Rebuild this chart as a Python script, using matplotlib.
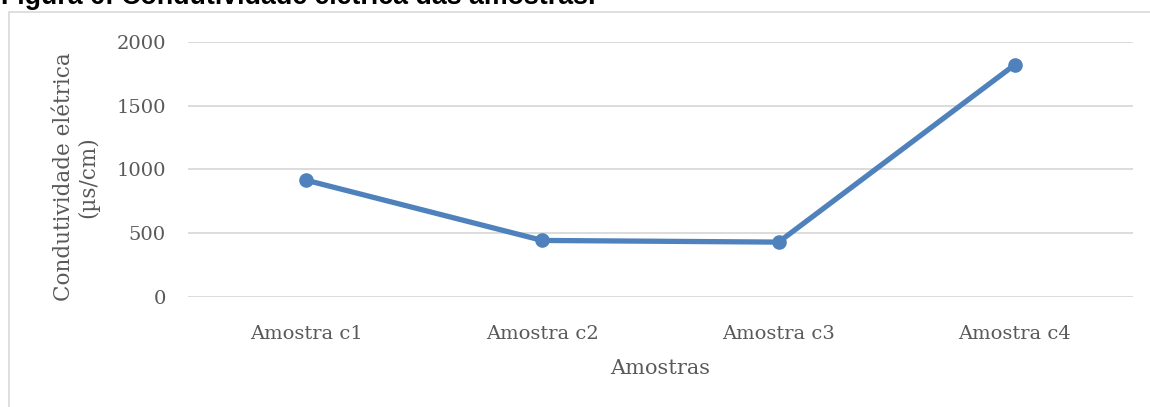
import matplotlib
matplotlib.use("Agg")
import matplotlib.pyplot as plt
import matplotlib.patches as patches

# data
samples = ["Amostra c1", "Amostra c2", "Amostra c3", "Amostra c4"]
conductivity = [915, 443, 430, 1820]
y_ticks = [0, 500, 1000, 1500, 2000]

W, H = 1150, 407
LINE_BLUE = "#4F81BD"
GRID_GREY = "#D9D9D9"
TEXT_GREY = "#595959"
SERIF = "DejaVu Serif"

fig = plt.figure(figsize=(W / 100, H / 100), dpi=100)

# outer chart frame (cut off on the right and bottom)
fig.patches.append(patches.Rectangle((8.5 / W, -0.2), 2.0, (H - 12) / H + 0.2,
                                     transform=fig.transFigure, fill=False,
                                     edgecolor=GRID_GREY, lw=1.2, zorder=0))

# caption above, cropped at the top edge like in the source
fig.text(1 / W, 1 - 4.5 / H, "Figura 6: Condutividade elétrica das amostras.",
         fontsize=19.3, fontweight="bold", family="Liberation Sans",
         color="black", ha="left", va="baseline")

left, right = 188 / W, 1133 / W
bottom, top = (H - 297) / H, (H - 41.7) / H
ax = fig.add_axes([left, bottom, right - left, top - bottom])

x = list(range(len(samples)))
ax.plot(x, conductivity, color=LINE_BLUE, lw=3.8, marker="o", markersize=9.5,
        solid_capstyle="round", zorder=3, clip_on=False)

ax.set_xlim(-0.5, len(samples) - 0.5)
ax.set_ylim(0, 2000)
ax.set_yticks(y_ticks)
ax.set_xticks(x)
ax.set_xticklabels(samples)

for s in ax.spines.values():
    s.set_visible(False)
ax.grid(axis="y", color=GRID_GREY, lw=1.3)
ax.set_axisbelow(True)
ax.tick_params(length=0, labelcolor=TEXT_GREY, labelsize=14)
ax.tick_params(axis="y", pad=16)
ax.tick_params(axis="x", pad=20)
for lab in ax.get_xticklabels() + ax.get_yticklabels():
    lab.set_family(SERIF)

fig.text((188 + 1133) / 2 / W, 1 - 368 / H, "Amostras", fontsize=15,
         family=SERIF, color=TEXT_GREY, ha="center", va="center")
fig.text(76 / W, 1 - 177 / H, "Condutividade elétrica\n(µs/cm)", fontsize=15.5,
         family=SERIF, color=TEXT_GREY, ha="center", va="center",
         rotation=90, linespacing=1.1)

fig.savefig("out.png", dpi=100)
